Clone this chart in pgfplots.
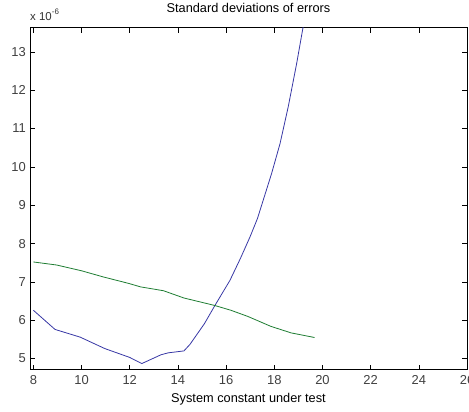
\documentclass[border=0pt]{standalone}
\usepackage{pgfplots}
\pgfplotsset{compat=1.18}
\usepackage{fontspec}
\setmainfont{Liberation Sans}
\definecolor{mblue}{RGB}{55,55,165}
\definecolor{mgreen}{RGB}{30,125,50}
\begin{document}
\begin{tikzpicture}
\begin{axis}[
  scale only axis,
  width=437bp, height=342bp,
  xmin=7.86, xmax=26, ymin=4.71, ymax=13.63,
  xtick={8,10,...,26},
  ytick={5,6,...,13},
  tick align=inside,
  xtick pos=both, ytick pos=both,
  major tick length=5bp,
  axis line style={black, line width=0.8bp},
  tick style={black, line width=0.6bp},
  /pgf/number format/assume math mode=true,
  ticklabel style={font=\fontsize{13}{15}\selectfont, text=black!75},
  xticklabel style={inner sep=0pt, yshift=-6bp},
  yticklabel style={inner sep=0pt, xshift=-4bp},
  title={Standard deviations of errors},
  title style={font=\fontsize{12.8}{15}\selectfont, at={(0.5,1)}, anchor=base, yshift=9bp, inner sep=0pt},
  xlabel={System constant under test},
  xlabel style={font=\fontsize{12.8}{15}\selectfont, at={(0.5,0)}, anchor=base, yshift=-33bp, inner sep=0pt},
  clip=true,
]
\addplot[mblue, line width=0.8bp] coordinates {
(8,6.26) (8.9,5.76) (9.94,5.56) (10.97,5.26) (12.0,5.03) (12.5,4.87) (13.3,5.10) (13.6,5.15) (14.25,5.20) (14.5,5.37) (15.1,5.91) (15.54,6.39) (16.16,7.04) (16.6,7.62) (16.99,8.17) (17.3,8.65) (17.54,9.13) (17.89,9.83) (18.24,10.61) (18.58,11.57) (18.93,12.7) (19.2,13.66) (19.3,14.0)
};
\addplot[mgreen, line width=0.8bp] coordinates {
(8,7.52) (8.97,7.44) (10,7.29) (10.9,7.13) (11.96,6.96) (12.45,6.87) (13.4,6.77) (14.25,6.58) (15.5,6.39) (16.2,6.26) (16.9,6.10) (17.86,5.84) (18.7,5.67) (19.67,5.55)
};
\end{axis}
\node[anchor=base west, font=\fontsize{11.5}{13}\selectfont, inner sep=0pt, text=black!80] at ([yshift=7bp]current axis.north west) {x 10\raisebox{1.1ex}{\fontsize{8}{9}\selectfont -6}};
\pgfresetboundingbox
\useasboundingbox ([xshift=-30bp,yshift=-42bp]current axis.south west) rectangle ([xshift=2bp,yshift=27.7bp]current axis.north east);
\end{tikzpicture}
\end{document}
